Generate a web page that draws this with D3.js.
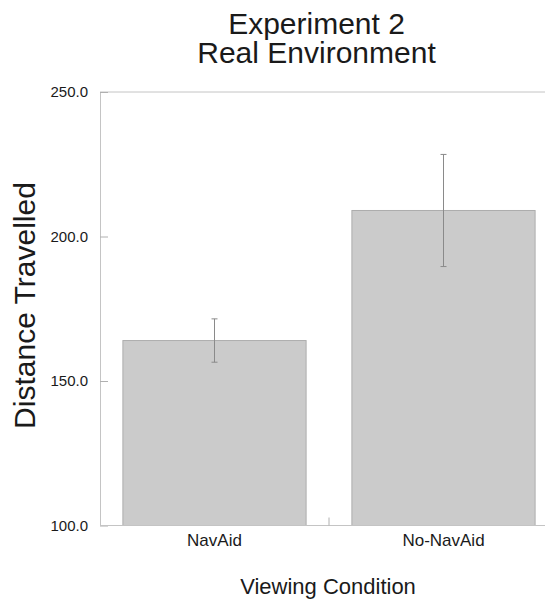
<!DOCTYPE html>
<html>
<head>
<meta charset="utf-8">
<script src="https://cdn.jsdelivr.net/npm/d3@7"></script>
<style>
  html, body { margin: 0; padding: 0; background: #fff; overflow: hidden; }
  svg { display: block; overflow: hidden; }
  text { font-family: "Liberation Sans", Arial, Helvetica, sans-serif; fill: #1a1a1a; }
</style>
</head>
<body>
<script>
// ---- data ----
const categories = ["NavAid", "No-NavAid"];
const means = [164.0, 209.0];
const errors = [7.5, 19.4];
const yTicks = [100, 150, 200, 250];
const titleLines = ["Experiment 2", "Real Environment"];
const yLabel = "Distance Travelled";
const xLabel = "Viewing Condition";

// ---- layout ----
const W = 545, H = 601;
const plot = { left: 100, right: 558, top: 92, bottom: 525.5 };
const visibleRight = Math.min(plot.right, W);

const svg = d3.select("body").append("svg").attr("width", W).attr("height", H);
const defs = svg.append("defs");
defs.append("clipPath").attr("id", "vp").append("rect")
  .attr("x", 0).attr("y", 0).attr("width", W).attr("height", H);
const root = svg.append("g").attr("clip-path", "url(#vp)");

const x = d3.scaleBand().domain(categories)
  .range([plot.left, plot.right]).paddingInner(0.2).paddingOuter(0.1);
const y = d3.scaleLinear().domain([100, 250]).range([plot.bottom, plot.top]);

// frame: top line
root.append("line").attr("x1", plot.left).attr("x2", visibleRight)
  .attr("y1", y(250)).attr("y2", y(250))
  .attr("stroke", "#c4c4c4").attr("stroke-width", 1);

// bars
root.append("g").selectAll("rect").data(categories).join("rect")
  .attr("x", d => x(d))
  .attr("width", x.bandwidth())
  .attr("y", (d, i) => y(means[i]))
  .attr("height", (d, i) => y(100) - y(means[i]))
  .attr("fill", "#cbcbcb")
  .attr("stroke", "#adadad")
  .attr("stroke-width", 1);

// error bars
const eb = root.append("g").attr("stroke", "#8a8a8a").attr("stroke-width", 1);
categories.forEach((c, i) => {
  const cx = x(c) + x.bandwidth() / 2;
  const y1 = y(means[i] + errors[i]), y2 = y(means[i] - errors[i]);
  eb.append("line").attr("x1", cx).attr("x2", cx).attr("y1", y1).attr("y2", y2);
  eb.append("line").attr("x1", cx - 3).attr("x2", cx + 3).attr("y1", y1).attr("y2", y1);
  eb.append("line").attr("x1", cx - 3).attr("x2", cx + 3).attr("y1", y2).attr("y2", y2);
});

// y axis
const yAxis = root.append("g").attr("transform", `translate(${plot.left},0)`)
  .call(d3.axisLeft(y).tickValues(yTicks).tickFormat(d3.format(".1f"))
    .tickSizeInner(-8).tickSizeOuter(0).tickPadding(12));
yAxis.select(".domain").attr("stroke", "#c4c4c4");
yAxis.selectAll(".tick line").attr("stroke", "#b0b0b0");
yAxis.selectAll(".tick text").attr("font-size", 15).attr("fill", "#1a1a1a")
  .style("font-family", '"Liberation Sans", Arial, sans-serif');

// x axis
const xAxis = root.append("g").attr("transform", `translate(0,${plot.bottom})`)
  .call(d3.axisBottom(x).tickSize(0).tickPadding(8.5));
xAxis.select(".domain").remove();
root.append("line").attr("x1", plot.left).attr("x2", visibleRight)
  .attr("y1", plot.bottom).attr("y2", plot.bottom).attr("stroke", "#c4c4c4");
xAxis.selectAll(".tick text").attr("font-size", 17).attr("fill", "#1a1a1a")
  .style("font-family", '"Liberation Sans", Arial, sans-serif');
// category boundary ticks
const boundaries = categories.slice(1).map(c => x(c) - x.step() * x.paddingInner() / 2);
root.append("g").selectAll("line").data(boundaries).join("line")
  .attr("x1", d => d).attr("x2", d => d)
  .attr("y1", plot.bottom).attr("y2", plot.bottom - 8)
  .attr("stroke", "#b0b0b0");

// title (one text, two lines)
const title = root.append("text").attr("text-anchor", "middle").attr("font-size", 30);
title.selectAll("tspan").data(titleLines).join("tspan")
  .attr("x", 316.5).attr("y", (d, i) => 34 + i * 29).text(d => d);

// y label
root.append("text")
  .attr("transform", "translate(35,305.5) rotate(-90)")
  .attr("text-anchor", "middle").attr("font-size", 30).text(yLabel);

// x label
root.append("text").attr("x", 328).attr("y", 594)
  .attr("text-anchor", "middle").attr("font-size", 22).text(xLabel);
</script>
</body>
</html>
